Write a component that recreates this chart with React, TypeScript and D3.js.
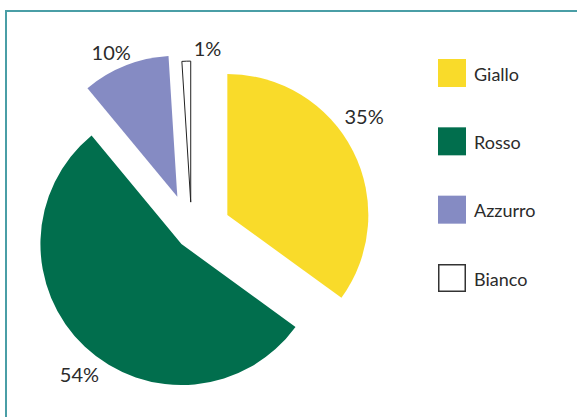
import React, { useEffect, useRef } from "react";
import * as d3 from "d3";

// colori e valori
const categories = ["Giallo", "Rosso", "Azzurro", "Bianco"];
const values = [35, 54, 10, 1];
const labels = ["35%", "54%", "10%", "1%"];
const colors = ["#F9DB2A", "#016E4D", "#858BC3", "#FFFFFF"];

// explode distance per slice and label placement (angle shift in degrees, radius)
const explode = [40, 15, 39, 31];
const labelShift = [-9, -5, -3, 8];
const labelRadius = [169, 165, 159, 155];

export default function App() {
	const ref = useRef(null);

	useEffect(() => {
		const width = 577;
		const height = 417;
		const cx = 191.7;
		const cy = 233.1;
		const radius = 141;

		const svg = d3.select(ref.current);
		svg.selectAll("*").remove();

		// cornice
		svg
			.append("path")
			.attr("d", `M6,${height + 5}V11H${width + 5}`)
			.attr("fill", "none")
			.attr("stroke", "#4A9EA6")
			.attr("stroke-width", 2);

		const pie = d3
			.pie()
			.sort(null)
			.value((d) => d)
			.startAngle(0)
			.endAngle(2 * Math.PI);

		const arcs = pie(values);
		const arc = d3.arc().innerRadius(0).outerRadius(radius);

		const g = svg.append("g").attr("transform", `translate(${cx},${cy})`);

		arcs.forEach((a, i) => {
			const mid = (a.startAngle + a.endAngle) / 2;
			const ox = Math.sin(mid) * explode[i];
			const oy = -Math.cos(mid) * explode[i];
			g.append("path")
				.attr("d", arc(a))
				.attr("transform", `translate(${ox},${oy})`)
				.attr("fill", colors[i])
				.attr("stroke", categories[i] === "Bianco" ? "#222" : "none")
				.attr("stroke-width", 1);

			const la = mid + (labelShift[i] * Math.PI) / 180;
			g.append("text")
				.attr("x", ox + Math.sin(la) * labelRadius[i])
				.attr("y", oy - Math.cos(la) * labelRadius[i])
				.attr("text-anchor", "middle")
				.attr("dominant-baseline", "central")
				.attr("font-family", "Lato, sans-serif")
				.attr("font-size", 20)
				.attr("fill", "#2b2b2b")
				.text(labels[i]);
		});

		// legenda
		const legendY = d3.scalePoint().domain(categories).range([59, 264]);
		const legend = svg
			.append("g")
			.selectAll("g")
			.data(categories)
			.enter()
			.append("g")
			.attr("transform", (d) => `translate(438,${legendY(d)})`);

		legend
			.append("rect")
			.attr("x", (d, i) => (i === 3 ? 0.75 : 0))
			.attr("y", (d, i) => (i === 3 ? 0.75 : 0))
			.attr("width", (d, i) => (i === 3 ? 26.5 : 28))
			.attr("height", (d, i) => (i === 3 ? 26.5 : 28))
			.attr("fill", (d, i) => colors[i])
			.attr("stroke", (d, i) => (i === 3 ? "#333" : "none"))
			.attr("stroke-width", 1.5);

		legend
			.append("text")
			.attr("x", 36)
			.attr("y", 21.5)
			.attr("font-family", "Lato, sans-serif")
			.attr("font-size", 18)
			.attr("fill", "#2b2b2b")
			.text((d) => d);
	}, []);

	return (
		<svg
			ref={ref}
			width={577}
			height={417}
			style={{ position: "absolute", left: 0, top: 0, background: "#fff" }}
		/>
	);
}
